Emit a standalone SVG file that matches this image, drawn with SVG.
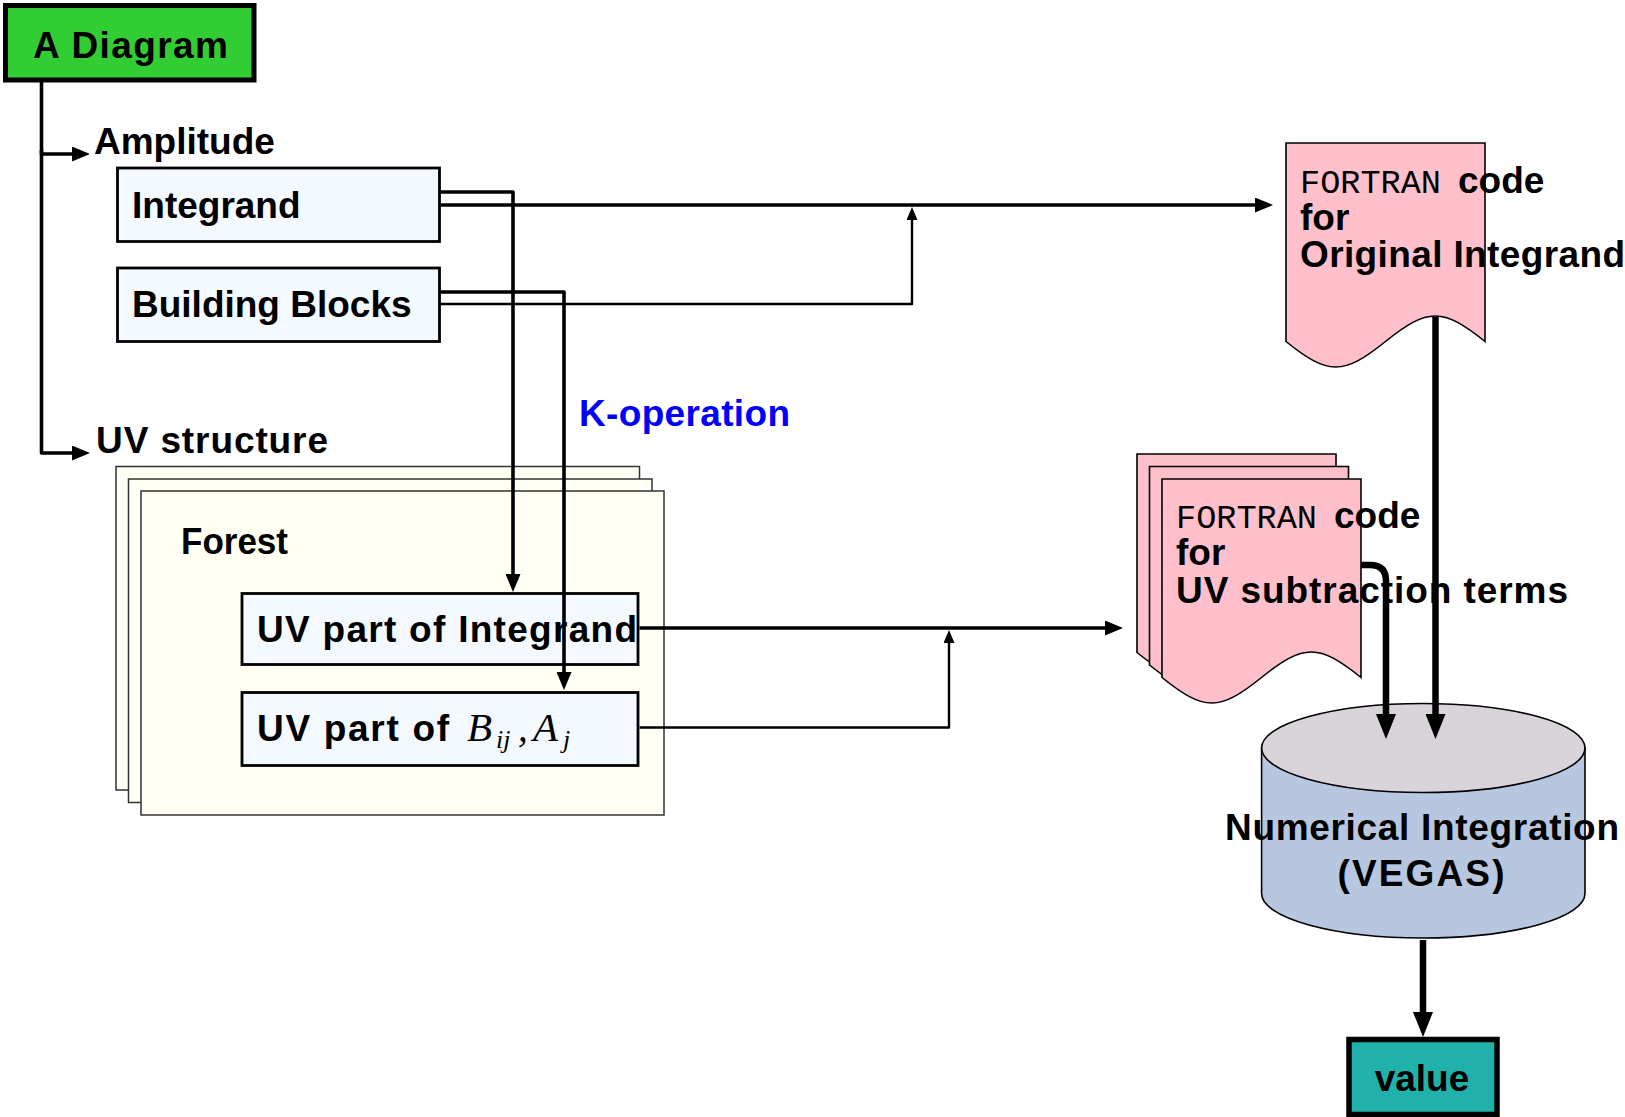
<svg xmlns="http://www.w3.org/2000/svg" width="1625" height="1117" viewBox="0 0 1625 1117">
<style>
.t{font-family:"Liberation Sans",Arial,sans-serif;font-weight:bold;font-size:37px;fill:#000}
.mono{font-family:"Liberation Mono","Courier New",monospace;font-weight:normal;font-size:34px;fill:#000}
.math{font-family:"Liberation Serif","Times New Roman",serif;font-style:italic;font-weight:normal;fill:#000}
.box{fill:#f4f8ff;stroke:#000;stroke-width:2.8}
.forest{fill:#fffff4;stroke:#333;stroke-width:1.5}
.doc{fill:#ffc0cb;stroke:#000;stroke-width:1.6}
.c{fill:none;stroke:#000;stroke-linejoin:round}
.thick{stroke-width:3.6}
.thin{stroke-width:2.4}
.ultra{stroke-width:6.5}
</style>
<defs>
<marker id="ah" viewBox="0 0 18 15" markerWidth="18" markerHeight="15" refX="12" refY="7.5" orient="auto" markerUnits="userSpaceOnUse"><path d="M0,0 L18,7.5 L0,15 Z" fill="#000"/></marker>
<marker id="ahs" viewBox="0 0 13 11" markerWidth="13" markerHeight="11" refX="9" refY="5.5" orient="auto" markerUnits="userSpaceOnUse"><path d="M0,0 L13,5.5 L0,11 Z" fill="#000"/></marker>
<marker id="ahu" viewBox="0 0 25 20" markerWidth="25" markerHeight="20" refX="16" refY="10" orient="auto" markerUnits="userSpaceOnUse"><path d="M0,0 L25,10 L0,20 Z" fill="#000"/></marker>
<path id="docshape" d="M0,0 H199 V198.5 C156.8,164.5 141.7,164.5 99.5,198.5 C57.3,232.5 42.2,232.5 0,198.5 Z"/>
</defs>

<g id="diagram">
<rect x="5.5" y="5.5" width="248.5" height="74.5" fill="#32cd32" stroke="#000" stroke-width="5"/>
<text class="t" x="33" y="58" textLength="195" lengthAdjust="spacing">A Diagram</text>
</g>

<g id="amplitude"><text class="t" x="94" y="154">Amplitude</text></g>

<g id="integrand">
<rect class="box" x="117.5" y="168" width="322" height="73.5"/>
<text class="t" x="132" y="218">Integrand</text>
</g>

<g id="buildingblocks">
<rect class="box" x="117.5" y="268" width="322" height="73.5"/>
<text class="t" x="132" y="317">Building Blocks</text>
</g>

<g id="uvstructure"><text class="t" x="96" y="453" textLength="232" lengthAdjust="spacing">UV structure</text></g>

<g id="forest">
<rect class="forest" x="116" y="466.5" width="523.5" height="323.5"/>
<rect class="forest" x="128.5" y="479" width="523.5" height="323.5"/>
<rect class="forest" x="141" y="491" width="523" height="324"/>
<text class="t" x="181" y="554" textLength="107" lengthAdjust="spacingAndGlyphs">Forest</text>
</g>

<g id="uvintegrand">
<rect class="box" x="242" y="593.5" width="396" height="71"/>
<text class="t" x="257" y="642" textLength="380" lengthAdjust="spacing">UV part of Integrand</text>
</g>

<g id="uvbuilding">
<rect class="box" x="242" y="692.5" width="396" height="73"/>
<text class="t" x="257" y="741" textLength="192" lengthAdjust="spacing">UV part of</text>
<text class="math" x="467" y="741" font-size="41">B</text>
<text class="math" x="496" y="748" font-size="26">ij</text>
<text class="math" x="518" y="741" font-size="39">,</text>
<text class="math" x="533" y="741" font-size="41">A</text>
<text class="math" x="563" y="748" font-size="26">j</text>
</g>

<g id="koperation"><text class="t" x="579" y="426" style="fill:#0000ff" textLength="211" lengthAdjust="spacing">K-operation</text></g>

<g id="fortranoriginal">
<use href="#docshape" class="doc" x="1286" y="143"/>
<text class="mono" x="1300" y="193" textLength="141" lengthAdjust="spacingAndGlyphs">FORTRAN</text>
<text class="t" x="1458" y="193">code</text>
<text class="t" x="1300" y="229.5">for</text>
<text class="t" x="1300" y="266.5" textLength="325" lengthAdjust="spacing">Original Integrand</text>
</g>

<g id="fortranuv">
<use href="#docshape" class="doc" x="1137" y="454"/>
<use href="#docshape" class="doc" x="1149.5" y="466.5"/>
<use href="#docshape" class="doc" x="1162" y="479"/>
<text class="mono" x="1176" y="528" textLength="141" lengthAdjust="spacingAndGlyphs">FORTRAN</text>
<text class="t" x="1334" y="528">code</text>
<text class="t" x="1176" y="564.5">for</text>
<text class="t" x="1176" y="603" textLength="392" lengthAdjust="spacing">UV subtraction terms</text>
</g>

<g id="integration">
<path d="M1261.6,748 V893.5 A161.7,44.5 0 0 0 1585,893.5 V748 Z" fill="#b7c7e0" stroke="#000" stroke-width="1.6"/>
<ellipse cx="1423.3" cy="748" rx="161.7" ry="44.5" fill="#d9d4d9" stroke="#000" stroke-width="1.6"/>
<text class="t" x="1422" y="840" text-anchor="middle" textLength="394" lengthAdjust="spacing">Numerical Integration</text>
<text class="t" x="1421" y="886" text-anchor="middle" textLength="167" lengthAdjust="spacing">(VEGAS)</text>
</g>

<g id="value">
<rect x="1349" y="1039.5" width="148" height="75" fill="#20b2aa" stroke="#000" stroke-width="5.5"/>
<text class="t" x="1422" y="1091" text-anchor="middle">value</text>
</g>

<g id="connectors">
<path class="c thick" d="M41.5,81 V154 H84" marker-end="url(#ah)"/>
<path class="c thick" d="M41.5,150 V453 H84" marker-end="url(#ah)"/>
<path class="c thick" d="M440.5,192 H513 V586" marker-end="url(#ah)"/>
<path class="c thick" d="M440.5,292 H564 V684" marker-end="url(#ah)"/>
<path class="c thick" d="M440.5,205 H1267" marker-end="url(#ah)"/>
<path class="c thin" d="M440.5,304 H912 V211" marker-end="url(#ahs)"/>
<path class="c thick" d="M639.5,628 H1117" marker-end="url(#ah)"/>
<path class="c thin" d="M639.5,727.5 H949 V634" marker-end="url(#ahs)"/>
<path class="c ultra" d="M1435.5,317 V730" marker-end="url(#ahu)"/>
<path class="c ultra" d="M1361,565 H1370 Q1386,565 1386,581 V730" marker-end="url(#ahu)"/>
<path class="c ultra" d="M1423,940 V1028" marker-end="url(#ahu)"/>
</g>
</svg>
